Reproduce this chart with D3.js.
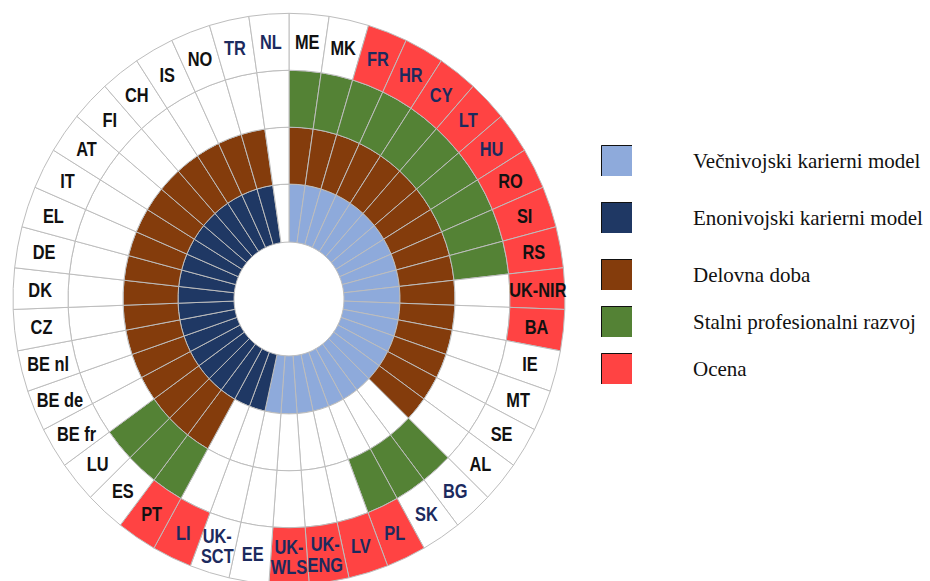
<!DOCTYPE html>
<html>
<head>
<meta charset="utf-8">
<script src="https://cdn.jsdelivr.net/npm/d3@7"></script>
<style>
  html, body { margin: 0; padding: 0; background: #fff; }
  svg { display: block; }
</style>
</head>
<body>
<svg id="chart" width="930" height="581"></svg>
<script>
// ---- data ----
const countries = ["ME","MK","FR","HR","CY","LT","HU","RO","SI","RS","UK-NIR","BA","IE","MT","SE","AL","BG","SK","PL","LV","UK-ENG","UK-WLS","EE","UK-SCT","LI","PT","ES","LU","BE fr","BE de","BE nl","CZ","DK","DE","EL","IT","AT","FI","CH","IS","NO","TR","NL"];
// career model: "multi" = Večnivojski, "single" = Enonivojski, "" = none
const careerModel = ["multi","multi","multi","multi","multi","multi","multi","multi","multi","multi","multi","multi","multi","multi","multi","multi","multi","multi","multi","multi","multi","multi","multi","single","single","single","single","single","single","single","single","single","single","single","single","single","single","single","single","single","single","single",""];
// Delovna doba
const seniority = [1,1,1,1,1,1,1,1,1,1,1,1,1,1,1,1,0,0,0,0,0,0,0,0,0,1,1,1,1,1,1,1,1,1,1,1,1,1,1,1,1,1,0];
// Stalni profesionalni razvoj
const cpd = [1,1,1,1,1,1,1,1,1,1,0,0,0,0,0,0,1,1,1,0,0,0,0,0,0,1,1,1,0,0,0,0,0,0,0,0,0,0,0,0,0,0,0];
// Ocena
const appraisal = [0,0,1,1,1,1,1,1,1,1,1,1,0,0,0,0,0,0,1,1,1,1,0,0,1,1,0,0,0,0,0,0,0,0,0,0,0,0,0,0,0,0,0];
// countries whose code is shown in dark blue
const markedCountries = ["FR","HR","CY","LT","HU","BG","SK","PL","LV","UK-ENG","UK-WLS","EE","UK-SCT","LI","TR","NL"];
const legendLabels = ["Večnivojski karierni model","Enonivojski karierni model","Delovna doba","Stalni profesionalni razvoj","Ocena"];

// ---- layout / style ----
const colors = {
  multi: "#8eaadb", single: "#1f3864", seniority: "#843c0c", cpd: "#548235", appraisal: "#ff4343"
};
const legendColors = [colors.multi, colors.single, colors.seniority, colors.cpd, colors.appraisal];
const cx = 289, cy = 299, sy = 1.035;
const radii = [55, 111, 166, 221, 276];
const gridStroke = "#bdbdbd";

const svg = d3.select("#chart");
const n = countries.length;
const angle = d3.scaleLinear().domain([0, n]).range([0, 2 * Math.PI]);

const g = svg.append("g").attr("transform", `translate(${cx},${cy}) scale(1,${sy})`);

const rings = [
  { inner: radii[0], outer: radii[1], fill: (d, i) => careerModel[i] === "multi" ? colors.multi : careerModel[i] === "single" ? colors.single : "#fff" },
  { inner: radii[1], outer: radii[2], fill: (d, i) => seniority[i] ? colors.seniority : "#fff" },
  { inner: radii[2], outer: radii[3], fill: (d, i) => cpd[i] ? colors.cpd : "#fff" },
  { inner: radii[3], outer: radii[4], fill: (d, i) => appraisal[i] ? colors.appraisal : "#fff" }
];

const arc = d3.arc();
rings.forEach((ring, k) => {
  g.append("g").attr("class", "ring" + k)
    .selectAll("path")
    .data(countries)
    .join("path")
    .attr("d", (d, i) => arc({
      innerRadius: ring.inner, outerRadius: ring.outer,
      startAngle: angle(i), endAngle: angle(i + 1)
    }))
    .attr("fill", ring.fill)
    .attr("stroke", gridStroke)
    .attr("stroke-width", 1)
    .attr("vector-effect", "non-scaling-stroke");
});

// ---- country labels ----
const labelR = 249;
const lg = svg.append("g")
  .attr("font-family", "'Liberation Sans', Arial, sans-serif")
  .attr("font-weight", "bold")
  .attr("font-size", 19.5);
countries.forEach((c, i) => {
  const a = (angle(i) + angle(i + 1)) / 2;
  const x = cx + labelR * Math.sin(a);
  const y = cy - labelR * Math.cos(a) * sy;
  const parts = c.startsWith("UK-") && c !== "UK-NIR" ? ["UK-", c.slice(3)] : [c];
  const t = lg.append("text")
    .attr("transform", `translate(${x},${y}) scale(0.84,1.04)`)
    .attr("text-anchor", "middle")
    .attr("fill", markedCountries.includes(c) ? "#1c2a5e" : "#111");
  if (parts.length === 1) {
    t.append("tspan").attr("x", 0).attr("y", 7).text(parts[0]);
  } else {
    t.append("tspan").attr("x", 0).attr("y", -3).text(parts[0]);
    t.append("tspan").attr("x", 0).attr("y", 17).text(parts[1]);
  }
});

// ---- legend ----
const legendY = [145, 202, 259, 306, 353];
const leg = svg.append("g");
legendLabels.forEach((lab, i) => {
  leg.append("rect").attr("x", 601).attr("y", legendY[i]).attr("width", 31).attr("height", 31)
    .attr("fill", legendColors[i]);
  leg.append("path").attr("d", `M601.5,${legendY[i] + 31}V${legendY[i] + 0.5}H632`)
    .attr("fill", "none").attr("stroke", "#111").attr("stroke-width", 1);
  leg.append("text").attr("x", 693).attr("y", legendY[i] + 23)
    .attr("font-family", "'Liberation Serif', 'Times New Roman', serif")
    .attr("font-size", 21)
    .attr("fill", "#111")
    .text(lab);
});
</script>
</body>
</html>
